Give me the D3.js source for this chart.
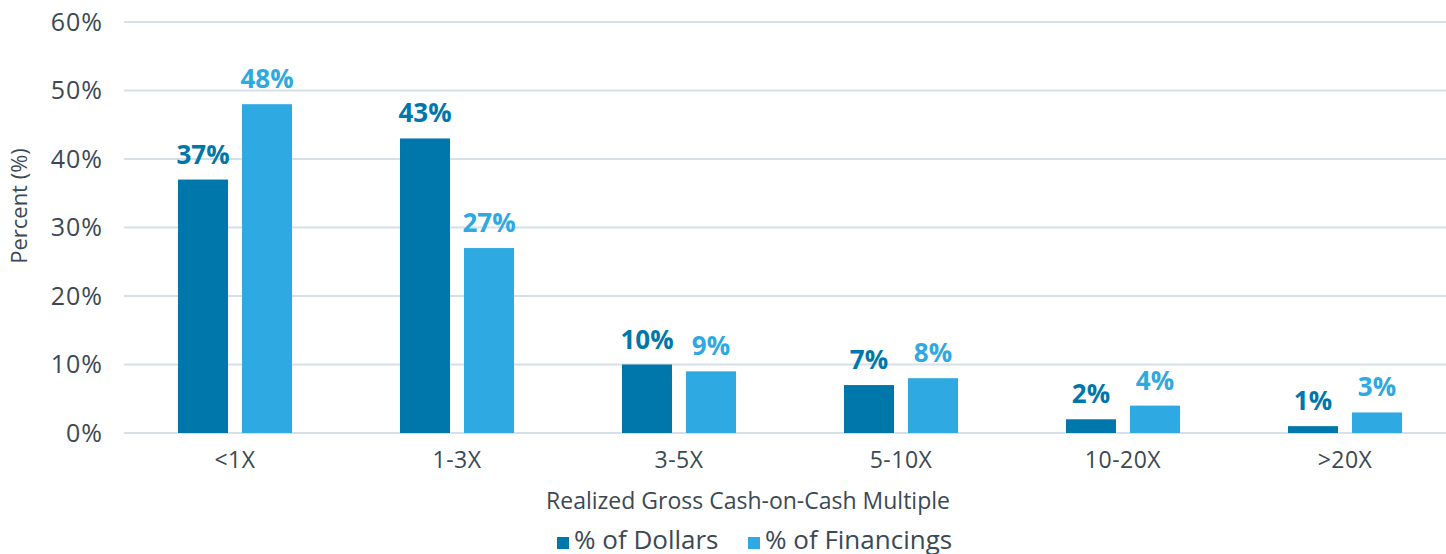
<!DOCTYPE html>
<html>
<head>
<meta charset="utf-8">
<script src="https://cdn.jsdelivr.net/npm/d3@7"></script>
<style>
  html, body { margin: 0; padding: 0; background: #fff; overflow: hidden; }
  svg { display: block; }
  text { font-family: "Open Sans", "Noto Sans", sans-serif; }
</style>
</head>
<body>
<svg id="chart"></svg>
<script>
var categories = ['<1X', '1-3X', '3-5X', '5-10X', '10-20X', '>20X'];
var seriesNames = ['% of Dollars', '% of Financings'];
var dollars = [37, 43, 10, 7, 2, 1];
var financings = [48, 27, 9, 8, 4, 3];
var yTicks = [0, 10, 20, 30, 40, 50, 60];

var colors = ['#0077AA', '#2EA9E1'];
var textColor = '#3B4954';

var width = 1446;
var height = 554;
var margin = {top: 22, right: -10, bottom: 121, left: 124};
var innerWidth = width - margin.left - margin.right;
var innerHeight = height - margin.top - margin.bottom;

var svg = d3.select('#chart')
    .attr('width', width)
    .attr('height', height);

var chart = svg.append('g')
    .attr('transform', `translate(${margin.left}, ${margin.top})`);

var data = categories.map((c, i) => ({
    label: c,
    values: [dollars[i], financings[i]]
}));

var x0 = d3.scaleBand()
    .domain(categories)
    .range([0, innerWidth])
    .padding(0);

// two 50px bars with a 14px gap, centred in each category
var x1 = d3.scaleBand()
    .domain([0, 1])
    .range([x0.bandwidth() / 2 - 57, x0.bandwidth() / 2 + 57])
    .paddingInner(0.21875)
    .paddingOuter(0);

var y = d3.scaleLinear()
    .domain([0, 60])
    .range([innerHeight, 0]);

// gridlines (plot area runs past the right edge, as in the original)
chart.append('g')
    .selectAll('line')
    .data(yTicks)
    .enter()
    .append('line')
    .attr('x1', 0)
    .attr('x2', width - margin.left)
    .attr('y1', d => y(d))
    .attr('y2', d => y(d))
    .attr('stroke', '#D6E0E9')
    .attr('stroke-width', 2);

// y axis
var yaxis = d3.axisLeft(y)
    .tickValues(yTicks)
    .tickFormat(d => d + '%')
    .tickSize(0)
    .tickPadding(21);

var yg = chart.append('g').call(yaxis);
yg.select('.domain').remove();
yg.selectAll('text')
    .attr('fill', textColor)
    .style('font-size', '25px')
    .style('letter-spacing', '1px');

// x axis
var xaxis = d3.axisBottom(x0)
    .tickSize(0)
    .tickPadding(19);

var xg = chart.append('g')
    .attr('transform', `translate(0, ${innerHeight})`)
    .call(xaxis);
xg.select('.domain').remove();
xg.selectAll('text')
    .attr('fill', textColor)
    .style('font-size', '23px')
    .style('letter-spacing', '0.5px');

// bars
var groups = chart.selectAll('.group')
    .data(data)
    .enter()
    .append('g')
    .attr('class', 'group')
    .attr('transform', d => `translate(${x0(d.label)}, 0)`);

groups.selectAll('rect')
    .data(d => d.values)
    .enter()
    .append('rect')
    .attr('x', (d, i) => x1(i))
    .attr('y', d => y(d))
    .attr('width', x1.bandwidth())
    .attr('height', d => innerHeight - y(d))
    .attr('fill', (d, i) => colors[i]);

groups.selectAll('.val')
    .data(d => d.values)
    .enter()
    .append('text')
    .attr('class', 'val')
    .attr('x', (d, i) => x1(i) + x1.bandwidth() / 2)
    .attr('y', d => y(d) - 16)
    .attr('text-anchor', 'middle')
    .attr('fill', (d, i) => colors[i])
    .style('font-size', '26px')
    .style('font-weight', 'bold')
    .text(d => d + '%');

// axis titles
svg.append('text')
    .attr('transform', 'translate(27, 206) rotate(-90)')
    .attr('text-anchor', 'middle')
    .attr('fill', textColor)
    .style('font-size', '22px')
    .text('Percent (%)');

svg.append('text')
    .attr('x', 748)
    .attr('y', 509)
    .attr('text-anchor', 'middle')
    .attr('fill', textColor)
    .style('font-size', '23px')
    .text('Realized Gross Cash-on-Cash Multiple');

// legend
var legendX = [557, 748];
var legend = svg.selectAll('.legend')
    .data(seriesNames)
    .enter()
    .append('g')
    .attr('class', 'legend')
    .attr('transform', (d, i) => `translate(${legendX[i]}, 549)`);

legend.append('rect')
    .attr('x', 0)
    .attr('y', -12)
    .attr('width', 12)
    .attr('height', 12)
    .attr('fill', (d, i) => colors[i]);

legend.append('text')
    .attr('x', 17)
    .attr('y', 0)
    .attr('fill', textColor)
    .style('font-size', '26px')
    .text(d => d);
</script>
</body>
</html>
